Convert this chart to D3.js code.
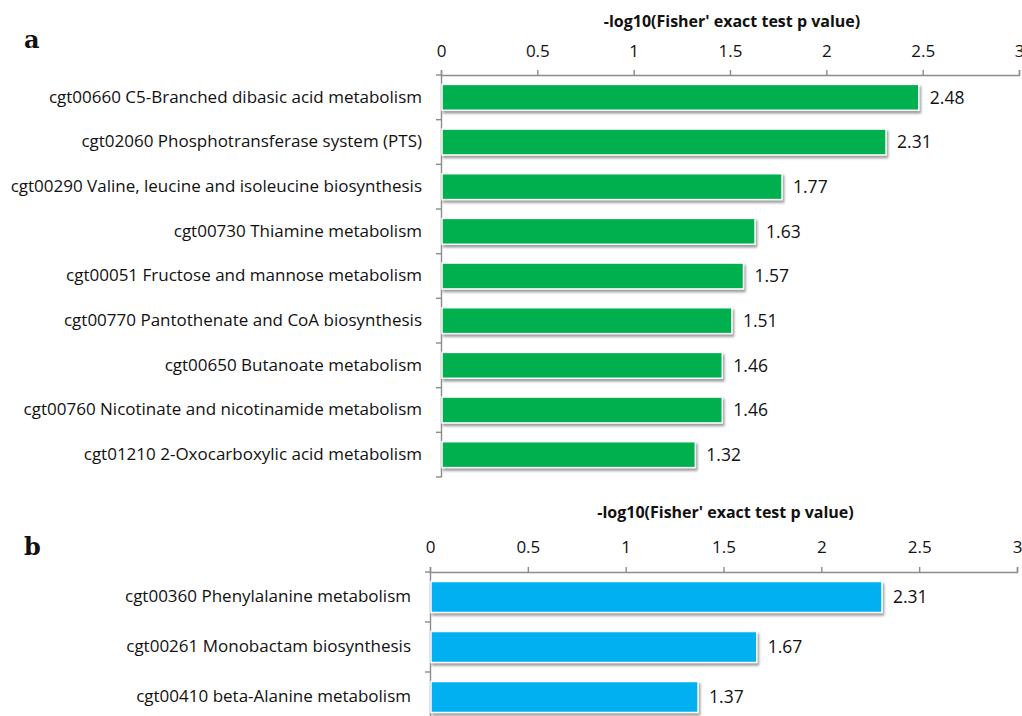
<!DOCTYPE html>
<html>
<head>
<meta charset="utf-8">
<script src="https://cdn.jsdelivr.net/npm/d3@7"></script>
<style>
  body { margin: 0; background: #fff; }
  text { font-family: "Open Sans", sans-serif; fill: #111; }
</style>
</head>
<body>
<svg id="chart" width="1022" height="716"></svg>
<script>
// panel a data
const pathwaysA = [
  "cgt00660 C5-Branched dibasic acid metabolism",
  "cgt02060 Phosphotransferase system (PTS)",
  "cgt00290 Valine, leucine and isoleucine biosynthesis",
  "cgt00730 Thiamine metabolism",
  "cgt00051 Fructose and mannose metabolism",
  "cgt00770 Pantothenate and CoA biosynthesis",
  "cgt00650 Butanoate metabolism",
  "cgt00760 Nicotinate and nicotinamide metabolism",
  "cgt01210 2-Oxocarboxylic acid metabolism"
];
const valuesA = [2.48, 2.31, 1.77, 1.63, 1.57, 1.51, 1.46, 1.46, 1.32];

// panel b data
const pathwaysB = [
  "cgt00360 Phenylalanine metabolism",
  "cgt00261 Monobactam biosynthesis",
  "cgt00410 beta-Alanine metabolism"
];
const valuesB = [2.31, 1.67, 1.37];

const xTicks = [0, 0.5, 1, 1.5, 2, 2.5, 3];
const axisTitle = "-log10(Fisher' exact test p value)";

const svg = d3.select("#chart");

// drop shadow for the bars (excel style)
const defs = svg.append("defs");
const f = defs.append("filter").attr("id", "shadow")
  .attr("x", "-5%").attr("y", "-30%").attr("width", "110%").attr("height", "160%");
f.append("feDropShadow")
  .attr("dx", 1.5).attr("dy", 2.5).attr("stdDeviation", 1.2)
  .attr("flood-color", "#7a7a7a").attr("flood-opacity", 0.75);

function drawPanel(opts) {
  const { names, values, color, letter, x0, x1, top, bottom, pad, letterY, titleY, tickPad } = opts;

  const x = d3.scaleLinear().domain([0, 3]).range([x0, x1]);
  const y = d3.scaleBand().domain(names).range([top, bottom])
    .paddingInner(pad).paddingOuter(pad / 2);

  const g = svg.append("g");

  // panel letter
  g.append("text")
    .attr("x", 24).attr("y", letterY)
    .style("font-family", "'DejaVu Serif', serif")
    .style("font-weight", "bold")
    .style("font-size", "24px")
    .text(letter);

  // value axis on top
  const xAxis = g.append("g")
    .attr("transform", `translate(0,${top})`)
    .call(d3.axisTop(x).tickValues(xTicks).tickSize(5).tickPadding(tickPad)
      .tickFormat(d3.format("")).tickSizeOuter(5));
  xAxis.selectAll("path, line").attr("stroke", "#8c8c8c").attr("stroke-width", 1.4);
  xAxis.selectAll("text").style("font-family", "'Open Sans', sans-serif")
    .style("font-size", "17px").attr("fill", "#111");

  g.append("text")
    .attr("x", (x0 + x1) / 2 + 2).attr("y", titleY)
    .attr("text-anchor", "middle")
    .style("font-weight", "bold").style("font-size", "16px")
    .text(axisTitle);

  // category axis: labels only, boundary ticks drawn below
  const yAxis = g.append("g")
    .attr("transform", `translate(${x0},0)`)
    .call(d3.axisLeft(y).tickSize(0).tickPadding(19));
  yAxis.select(".domain").attr("stroke", "#8c8c8c").attr("stroke-width", 1.4);
  yAxis.selectAll("text").style("font-family", "'Open Sans', sans-serif")
    .style("font-size", "17px").attr("fill", "#111");

  const bounds = d3.range(names.length + 1).map(i => top + i * y.step());
  g.append("g").selectAll("line")
    .data(bounds)
    .join("line")
      .attr("x1", x0 - 5).attr("x2", x0)
      .attr("y1", d => d).attr("y2", d => d)
      .attr("stroke", "#8c8c8c").attr("stroke-width", 1.4);

  // bars
  g.append("g").selectAll("rect")
    .data(values)
    .join("rect")
      .attr("x", x(0) + 1)
      .attr("y", (d, i) => y(names[i]))
      .attr("width", d => x(d) - x(0) - 1)
      .attr("height", y.bandwidth())
      .attr("fill", color)
      .attr("stroke", "#fff").attr("stroke-width", 1.5)
      .attr("filter", "url(#shadow)");

  // value labels
  g.append("g").selectAll("text")
    .data(values)
    .join("text")
      .attr("x", d => x(d) + 11)
      .attr("y", (d, i) => y(names[i]) + y.bandwidth() / 2)
      .attr("dy", "0.36em")
      .style("font-size", "17.5px")
      .text(d => d.toFixed(2));
}

drawPanel({
  names: pathwaysA, values: valuesA, color: "#00b050", letter: "a",
  x0: 441, x1: 1019, top: 75, bottom: 477, pad: 0.42,
  letterY: 48, titleY: 27, tickPad: 13
});

drawPanel({
  names: pathwaysB, values: valuesB, color: "#00b0f0", letter: "b",
  x0: 430, x1: 1017, top: 572, bottom: 722, pad: 0.38,
  letterY: 555, titleY: 518, tickPad: 14
});
</script>
</body>
</html>
